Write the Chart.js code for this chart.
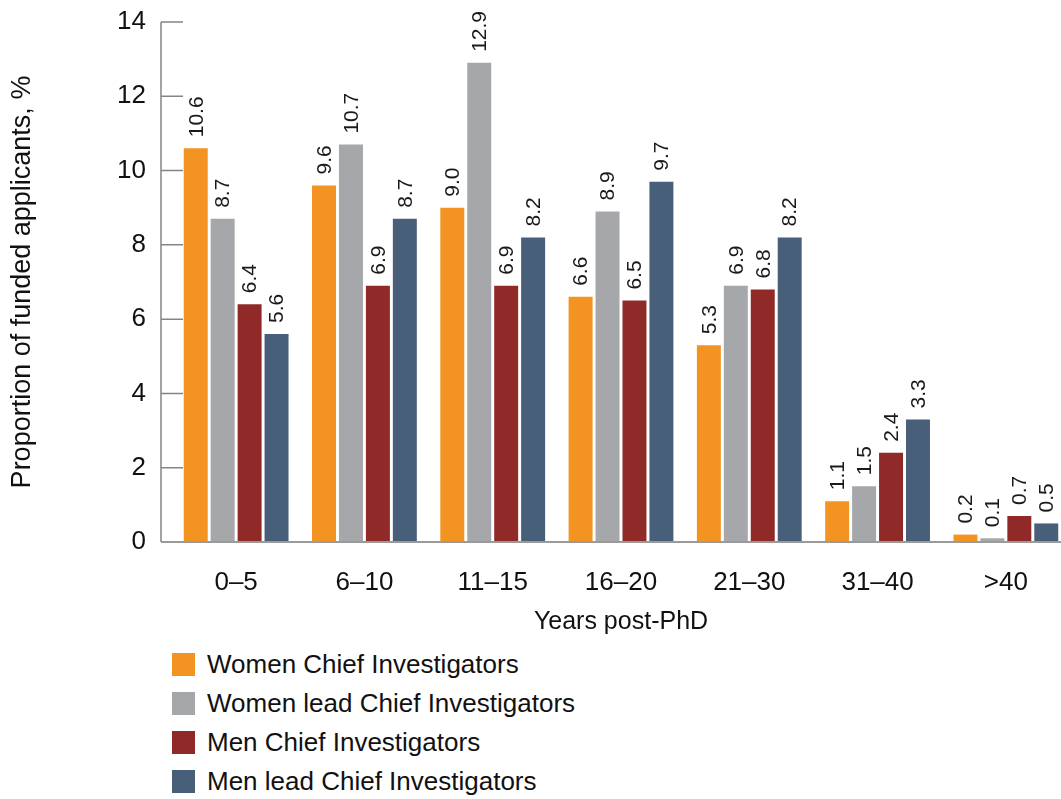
<!DOCTYPE html>
<html>
<head>
<meta charset="utf-8">
<script src="https://cdn.jsdelivr.net/npm/chart.js@4/dist/chart.umd.min.js"></script>
<style>
  html, body { margin: 0; padding: 0; background: #fff; overflow: hidden; width: 1061px; height: 799px; }
  #wrap { position: relative; width: 1061px; height: 799px; overflow: hidden; }
  #c { position: absolute; left: 0; top: 0; }
  #legend { position: absolute; left: 172px; top: 645px; font-family: "Liberation Sans", Arial, sans-serif; font-size: 26px; color: #111; }
  .item { display: flex; align-items: center; height: 39px; }
  .box { width: 23px; height: 23px; margin-right: 12px; }
</style>
</head>
<body>
<div id="wrap">
  <canvas id="c" width="1078" height="639"></canvas>
  <div id="legend"></div>
</div>
<script>
const categories = ["0–5", "6–10", "11–15", "16–20", "21–30", "31–40", ">40"];
const womenCI = [10.6, 9.6, 9.0, 6.6, 5.3, 1.1, 0.2];
const womenLeadCI = [8.7, 10.7, 12.9, 8.9, 6.9, 1.5, 0.1];
const menCI = [6.4, 6.9, 6.9, 6.5, 6.8, 2.4, 0.7];
const menLeadCI = [5.6, 8.7, 8.2, 9.7, 8.2, 3.3, 0.5];
const seriesNames = ["Women Chief Investigators", "Women lead Chief Investigators", "Men Chief Investigators", "Men lead Chief Investigators"];
const seriesColors = ["#F39322", "#A6A7AB", "#8F2A29", "#485F79"];
const yTicks = [0, 2, 4, 6, 8, 10, 12, 14];
const xTitle = "Years post-PhD";
const yTitle = "Proportion of funded applicants, %";

const FONT = '"Liberation Sans", Arial, sans-serif';

const seriesValues = [womenCI, womenLeadCI, menCI, menLeadCI];
const datasets = seriesValues.map((vals, i) => ({
  label: seriesNames[i],
  data: vals,
  backgroundColor: seriesColors[i],
  borderWidth: 0,
  categoryPercentage: 0.84,
  barPercentage: 0.89
}));

const axisPlugin = {
  id: 'axisPlugin',
  afterDatasetsDraw(chart) {
    const ctx = chart.ctx;
    const area = chart.chartArea;
    const y = chart.scales.y;
    const ax = area.left - 11;
    ctx.save();
    ctx.strokeStyle = '#858585';
    ctx.lineWidth = 1.5;
    ctx.beginPath();
    ctx.moveTo(ax, y.getPixelForValue(14));
    ctx.lineTo(ax, y.getPixelForValue(0));
    yTicks.forEach(t => {
      const py = y.getPixelForValue(t);
      if (t > 0) {
        ctx.moveTo(ax, py);
        ctx.lineTo(area.left + 11, py);
      }
    });
    ctx.stroke();
    ctx.strokeStyle = '#9a9a9a';
    ctx.lineWidth = 2;
    ctx.beginPath();
    ctx.moveTo(ax, y.getPixelForValue(0));
    ctx.lineTo(area.right + 10, y.getPixelForValue(0));
    ctx.stroke();

    // value labels
    ctx.fillStyle = '#1a1a1a';
    ctx.font = '21px ' + FONT;
    ctx.textAlign = 'left';
    ctx.textBaseline = 'middle';
    chart.data.datasets.forEach((ds, di) => {
      const meta = chart.getDatasetMeta(di);
      meta.data.forEach((bar, i) => {
        ctx.save();
        ctx.translate(bar.x, bar.y - 11);
        ctx.rotate(-Math.PI / 2);
        ctx.fillText(ds.data[i].toFixed(1), 0, 1);
        ctx.restore();
      });
    });
    ctx.restore();
  }
};

new Chart(document.getElementById('c'), {
  type: 'bar',
  data: { labels: categories, datasets },
  options: {
    responsive: false,
    animation: false,
    devicePixelRatio: 1,
    layout: { padding: { left: 6, top: 22, right: 8, bottom: 0 } },
    plugins: { legend: { display: false }, tooltip: { enabled: false } },
    scales: {
      x: {
        afterFit(s) { s.height = 97; },
        grid: { display: false, drawTicks: false },
        border: { display: false },
        ticks: { color: '#111', font: { family: FONT, size: 26 }, padding: 25 },
        title: { display: true, text: xTitle, color: '#111', font: { family: FONT, size: 25 }, padding: { top: 0, bottom: 2 } }
      },
      y: {
        min: 0, max: 14,
        afterFit(s) { s.width = 166; s.paddingTop = 0; s.paddingBottom = 0; },
        afterBuildTicks(s) { s.ticks = yTicks.map(v => ({ value: v })); },
        grid: { display: false, drawTicks: false },
        border: { display: false },
        ticks: { color: '#111', font: { family: FONT, size: 26 }, padding: 26 },
        title: { display: true, text: yTitle, color: '#111', font: { family: FONT, size: 27 }, padding: { top: 0, bottom: 0 } }
      }
    }
  },
  plugins: [axisPlugin]
});

const leg = document.getElementById('legend');
seriesNames.forEach((n, i) => {
  const row = document.createElement('div');
  row.className = 'item';
  const b = document.createElement('div');
  b.className = 'box';
  b.style.background = seriesColors[i];
  const t = document.createElement('span');
  t.textContent = n;
  row.appendChild(b);
  row.appendChild(t);
  leg.appendChild(row);
});
</script>
</body>
</html>
